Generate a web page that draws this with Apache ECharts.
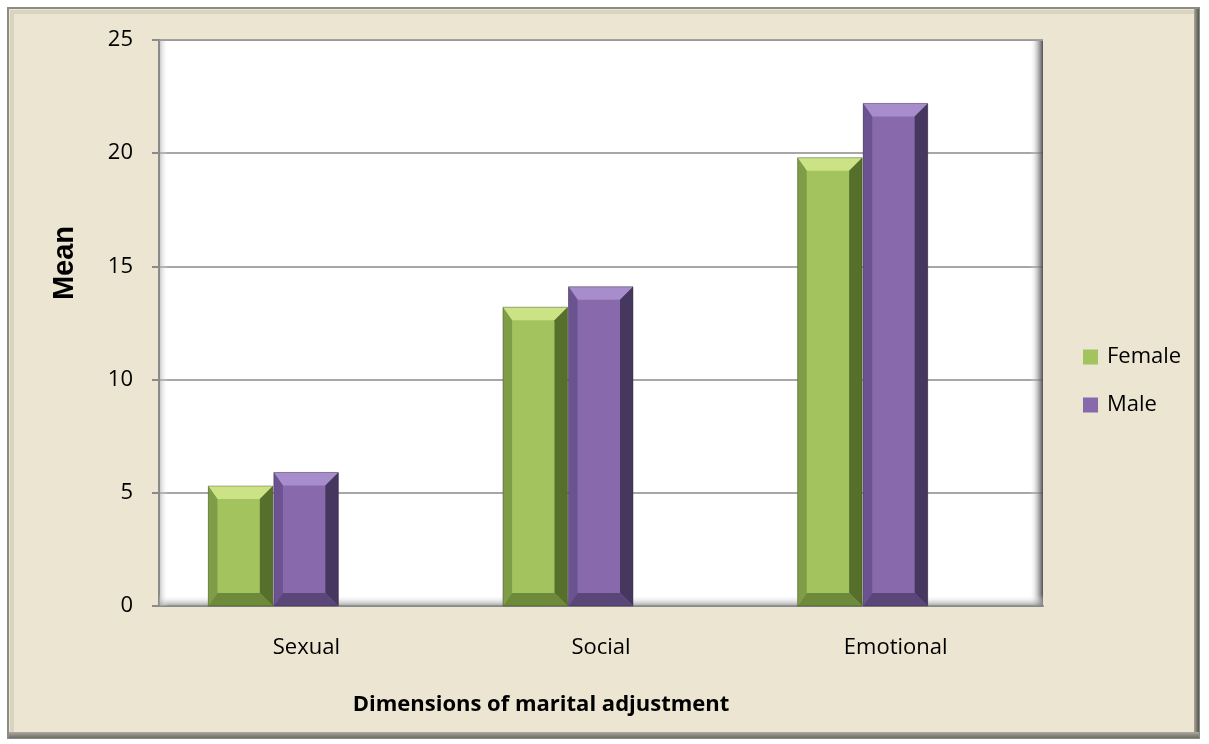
<!DOCTYPE html>
<html>
<head>
<meta charset="utf-8">
<title>Marital adjustment by gender</title>
<script src="https://cdn.jsdelivr.net/npm/echarts@6/dist/echarts.min.js"></script>
<style>
  html, body { margin: 0; padding: 0; background: #ffffff; }
  #chart { width: 1209px; height: 744px; }
</style>
</head>
<body>
<div id="chart"></div>
<script>
// Mean scores for each dimension of marital adjustment
const categories = ['Sexual', 'Social', 'Emotional'];
const female = [5.3, 13.2, 19.8];
const male = [5.9, 14.1, 22.2];
const seriesNames = ['Female', 'Male'];
const yMin = 0;
const yMax = 25;
const yStep = 5;
const xTitle = 'Dimensions of marital adjustment';
const yTitle = 'Mean';

// Styling
const FONT = '"Open Sans", "Noto Sans", sans-serif';
const AXIS_GRAY = '#8a8a8a';
const FRAME_FILL = '#ebe5d1';
const BAR_FRACTION = 0.219;   // width of one bar relative to a category slot
const DEPTH_SHIFT = 0.112;    // 3-D depth pushes the bar pair left of the slot centre
const BEVEL = 13;

const greenPalette = { face: '#a3c35f', top: '#cbe384', left: '#7f9c46', right: '#56702c', bottom: '#6d893a' };
const purplePalette = { face: '#8769ac', top: '#a78dcc', left: '#6b5391', right: '#46375f', bottom: '#5a4679' };

// Bevelled column drawn from the axis coordinates of each data item
function bevelBar(palette, side) {
  return function (params, api) {
    const idx = api.value(0);
    const val = api.value(1);
    const base = api.coord([idx, 0]);
    const top = api.coord([idx, val]);
    const cw = api.size([1, 0])[0];
    const bw = cw * BAR_FRACTION;
    const center = base[0] - cw * DEPTH_SHIFT;
    const l = side < 0 ? center - bw - 0.5 : center + 0.5;
    const r = l + bw;
    const t = top[1];
    const b = base[1];
    const e = Math.min(BEVEL, (b - t) / 2, bw / 2);
    const el = e * 0.7;
    return {
      type: 'group',
      children: [
        { type: 'rect', shape: { x: l, y: t, width: bw, height: b - t }, style: { fill: palette.face } },
        { type: 'polygon', shape: { points: [[l, t], [r, t], [r - e, t + e], [l + el, t + e]] }, style: { fill: palette.top } },
        { type: 'polygon', shape: { points: [[l, t], [l + el, t + e], [l + el, b - e], [l, b]] }, style: { fill: palette.left } },
        { type: 'polygon', shape: { points: [[r, t], [r, b], [r - e, b - e], [r - e, t + e]] }, style: { fill: palette.right } },
        { type: 'polygon', shape: { points: [[l, b], [r, b], [r - e, b - e], [l + el, b - e]] }, style: { fill: palette.bottom } },
        { type: 'rect', shape: { x: l, y: t, width: bw, height: b - t }, style: { fill: 'none', stroke: 'rgba(40,40,40,0.35)', lineWidth: 1 } }
      ]
    };
  };
}

const chart = echarts.init(document.getElementById('chart'), null, { renderer: 'canvas' });

const plot = { left: 159, right: 166, top: 40, bottom: 138 };
const plotRight = 1209 - plot.right;
const plotBottom = 744 - plot.bottom;

chart.setOption({
  backgroundColor: '#ffffff',
  animation: false,
  textStyle: { fontFamily: FONT },
  grid: {
    left: plot.left, right: plot.right, top: plot.top, bottom: plot.bottom,
    show: true, backgroundColor: '#ffffff', borderWidth: 0
  },
  legend: {
    orient: 'vertical',
    left: 1083,
    top: 346,
    padding: 0,
    itemWidth: 15,
    itemHeight: 15,
    itemGap: 26,
    icon: 'rect',
    data: seriesNames,
    textStyle: { fontFamily: FONT, fontSize: 22, color: '#000000', padding: [0, 0, 0, 4] }
  },
  xAxis: {
    type: 'category',
    data: categories,
    boundaryGap: true,
    axisLine: { show: true, lineStyle: { color: AXIS_GRAY, width: 2 } },
    axisTick: { show: false },
    axisLabel: { margin: 31, fontSize: 22, color: '#000000', fontFamily: FONT },
    splitLine: { show: false }
  },
  yAxis: {
    type: 'value',
    min: yMin,
    max: yMax,
    interval: yStep,
    axisLine: { show: true, lineStyle: { color: AXIS_GRAY, width: 2 } },
    axisTick: { show: true, length: 7, lineStyle: { color: AXIS_GRAY, width: 2 } },
    axisLabel: { margin: 26, fontSize: 22, color: '#000000', fontFamily: FONT },
    splitLine: { show: true, lineStyle: { color: AXIS_GRAY, width: 1.5 } }
  },
  graphic: [
    // outer beige frame
    { type: 'rect', z: -20, shape: { x: 8, y: 8, width: 1191, height: 730 },
      style: { fill: FRAME_FILL, stroke: '#8c8c86', lineWidth: 2 } },
    { type: 'rect', z: -19, shape: { x: 10, y: 10, width: 1187, height: 4 }, style: { fill: '#d9d4bf' } },
    { type: 'rect', z: -19, shape: { x: 10, y: 10, width: 4, height: 726 }, style: { fill: '#d9d4bf' } },
    { type: 'rect', z: -19, shape: { x: 1194, y: 9, width: 5, height: 729 },
      style: { fill: new echarts.graphic.LinearGradient(0, 0, 1, 0, [
        { offset: 0, color: '#a9a597' }, { offset: 1, color: '#555550' }]) } },
    { type: 'rect', z: -19, shape: { x: 9, y: 732, width: 1190, height: 6 },
      style: { fill: new echarts.graphic.LinearGradient(0, 0, 0, 1, [
        { offset: 0, color: '#aeaa9c' }, { offset: 1, color: '#6d6d68' }]) } },
    // plot wall shading
    { type: 'rect', z: 1, silent: true, shape: { x: plotRight - 13, y: plot.top, width: 13, height: plotBottom - plot.top },
      style: { fill: new echarts.graphic.LinearGradient(0, 0, 1, 0, [
        { offset: 0, color: 'rgba(255,255,255,0)' }, { offset: 0.75, color: 'rgba(120,120,120,0.75)' }, { offset: 1, color: 'rgba(70,70,70,0.95)' }]) } },
    { type: 'rect', z: 1, silent: true, shape: { x: plot.left, y: plotBottom - 11, width: plotRight - plot.left, height: 11 },
      style: { fill: new echarts.graphic.LinearGradient(0, 0, 0, 1, [
        { offset: 0, color: 'rgba(255,255,255,0)' }, { offset: 1, color: 'rgba(140,140,140,0.8)' }]) } },
    { type: 'rect', z: 1, silent: true, shape: { x: plot.left + 1, y: plot.top, width: 8, height: plotBottom - plot.top },
      style: { fill: new echarts.graphic.LinearGradient(0, 0, 1, 0, [
        { offset: 0, color: 'rgba(170,170,170,0.6)' }, { offset: 1, color: 'rgba(255,255,255,0)' }]) } },
    { type: 'rect', z: 1, silent: true, shape: { x: plot.left, y: plot.top, width: plotRight - plot.left, height: 1 },
      style: { fill: '#9a9a9a' } },
    // axis titles
    { type: 'text', z: 5, x: 65, y: 263, rotation: Math.PI / 2,
      style: { text: yTitle, fontFamily: '"Liberation Sans", Arial, sans-serif', fontWeight: 'bold', fontSize: 29,
        fill: '#000000', align: 'center', verticalAlign: 'middle' } },
    { type: 'text', z: 5, x: 541, y: 705,
      style: { text: xTitle, fontFamily: FONT, fontWeight: 'bold', fontSize: 22,
        fill: '#000000', align: 'center', verticalAlign: 'middle' } }
  ],
  series: [
    {
      name: seriesNames[0],
      type: 'custom',
      z: 3,
      itemStyle: { color: greenPalette.face },
      renderItem: bevelBar(greenPalette, -1),
      encode: { x: 0, y: 1 },
      data: categories.map((c, i) => [i, female[i]])
    },
    {
      name: seriesNames[1],
      type: 'custom',
      z: 3,
      itemStyle: { color: purplePalette.face },
      renderItem: bevelBar(purplePalette, 1),
      encode: { x: 0, y: 1 },
      data: categories.map((c, i) => [i, male[i]])
    }
  ]
});
</script>
</body>
</html>
